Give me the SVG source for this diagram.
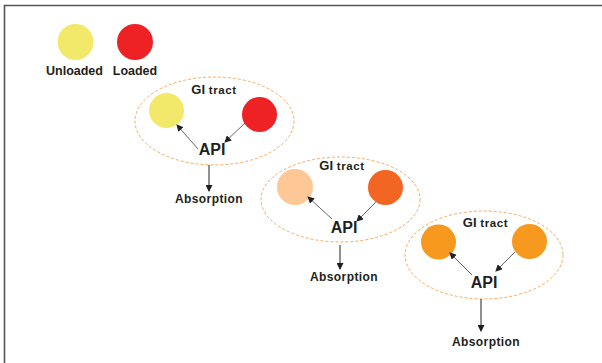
<svg xmlns="http://www.w3.org/2000/svg" width="602" height="363" viewBox="0 0 602 363">
<style>
text{font-family:"Liberation Sans",Arial,sans-serif;font-weight:bold;fill:#231f20;text-anchor:middle}
.lg{font-size:12.5px}
.gi{font-size:13px}
.tr{font-size:11.5px;letter-spacing:0.6px}
.api{font-size:16px}
.ab{font-size:12px;letter-spacing:0.4px}
.tract{fill:none;stroke:#F5A04A;stroke-width:0.9;stroke-dasharray:3 2}
.arr{stroke:#555;stroke-width:0.9;fill:none;marker-end:url(#ah)}
.dn{stroke:#231f20;stroke-width:1;fill:none;marker-end:url(#ah)}
</style>
<defs>
<marker id="ah" markerWidth="7" markerHeight="7" refX="6" refY="3.5" orient="auto" markerUnits="userSpaceOnUse">
<path d="M0,0 L7,3.5 L0,7 Z" fill="#231f20"/>
</marker>
</defs>
<rect width="602" height="363" fill="#fff"/>
<path d="M4.5,363 V5.5 H602" fill="none" stroke="#555" stroke-width="1.6"/>
<g id="legend">
<circle cx="75.5" cy="42" r="18" fill="#F2E96B"/>
<circle cx="135" cy="42" r="18" fill="#EE2224"/>
<text class="lg" x="74.5" y="75">Unloaded</text>
<text class="lg" x="135" y="75">Loaded</text>
</g>
<g id="tract1">
<ellipse class="tract" cx="214.5" cy="121" rx="79.5" ry="44"/>
<circle cx="166.5" cy="110.5" r="17.5" fill="#F2E96B"/>
<circle cx="259.5" cy="114.5" r="17.5" fill="#EE2224"/>
<text x="214" y="94"><tspan class="gi">GI</tspan><tspan class="tr"> tract</tspan></text>
<text class="api" x="212" y="155">API</text>
</g>
<g id="absorption1"><text class="ab" x="209" y="203">Absorption</text></g>
<g id="tract2">
<ellipse class="tract" cx="340.5" cy="199.5" rx="79.5" ry="42.5"/>
<circle cx="295" cy="187" r="18" fill="#FDC896"/>
<circle cx="385.5" cy="187.5" r="17.5" fill="#F26522"/>
<text x="342" y="170"><tspan class="gi">GI</tspan><tspan class="tr"> tract</tspan></text>
<text class="api" x="344" y="233">API</text>
</g>
<g id="absorption2"><text class="ab" x="344" y="281">Absorption</text></g>
<g id="tract3">
<ellipse class="tract" cx="484" cy="255" rx="79" ry="44"/>
<circle cx="438.5" cy="242" r="17.5" fill="#F7991F"/>
<circle cx="529.5" cy="241.5" r="17.5" fill="#F7991F"/>
<text x="485.5" y="227"><tspan class="gi">GI</tspan><tspan class="tr"> tract</tspan></text>
<text class="api" x="484" y="288">API</text>
</g>
<g id="absorption3"><text class="ab" x="486" y="346">Absorption</text></g>
<g id="connectors">
<line class="arr" x1="198" y1="149" x2="177" y2="125"/>
<line class="arr" x1="245" y1="123" x2="225" y2="142"/>
<line class="dn" x1="209" y1="165" x2="209" y2="191"/>
<line class="arr" x1="332" y1="219" x2="308" y2="197"/>
<line class="arr" x1="376" y1="202" x2="357" y2="221"/>
<line class="dn" x1="340" y1="245" x2="340" y2="269"/>
<line class="arr" x1="472" y1="275" x2="450" y2="253"/>
<line class="arr" x1="515" y1="252" x2="496" y2="271"/>
<line class="dn" x1="481" y1="299" x2="481" y2="331"/>
</g>
</svg>
